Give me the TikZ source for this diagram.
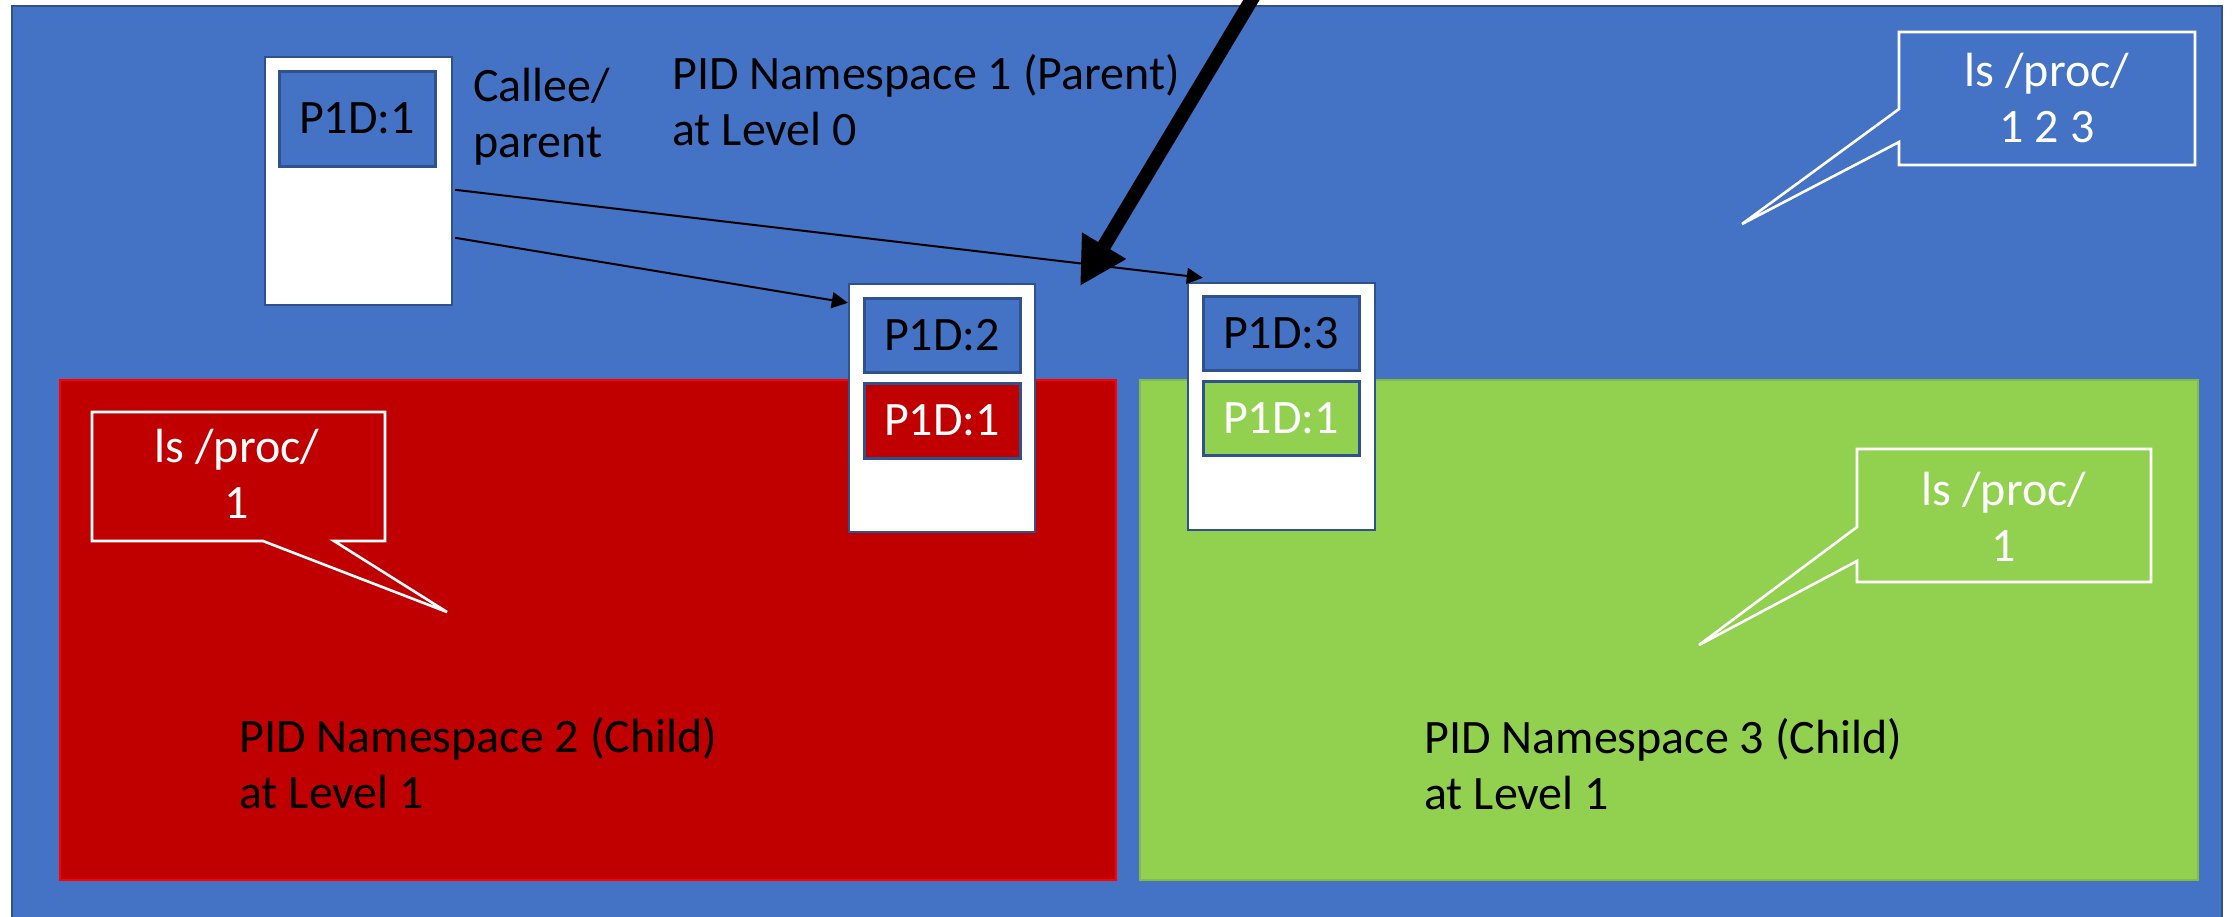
\documentclass[tikz,border=0pt]{standalone}
\usepackage{fontspec}
\setmainfont{Carlito}
\usetikzlibrary{fit,arrows.meta}
\definecolor{nsblue}{HTML}{4472C4}
\definecolor{nsblueline}{HTML}{2F528F}
\definecolor{nsred}{HTML}{C00000}
\definecolor{nsredline}{HTML}{FF0000}
\definecolor{nsgreen}{HTML}{92D050}
\begin{document}
\begin{tikzpicture}[x=0.5pt,y=-0.5pt,
  area/.style={inner sep=0pt, line width=1pt},
  procbox/.style={inner sep=0pt, fill=white, draw=nsblueline, line width=1.2pt},
  pidbox/.style={inner sep=0pt, draw=nsblueline, line width=1.5pt},
  txt/.style={font=\fontsize{24}{28}\selectfont, inner sep=0pt, align=left},
  ctxt/.style={font=\fontsize{24}{28}\selectfont, inner sep=0pt, align=center, text=white},
  callout/.style={draw=white, line width=1.3pt, line join=miter},
  thin/.style={draw=black, line width=1pt, -{Triangle[length=8pt,width=8pt]}},
  thick/.style={draw=black, line width=7pt, -{Triangle[length=23.5pt,width=24pt]}}
]
\useasboundingbox (0,0) rectangle (2236,916);
% namespaces
\node[area, fit={(12,6) (2222,940)}, fill=nsblue, draw=nsblueline] (ns1) {};
\node[area, fit={(60,380) (1116,880)}, fill=nsred, draw=nsredline] (ns2) {};
\node[area, fit={(1140,380) (2198,880)}, fill=nsgreen, draw=nsgreen!90!black] (ns3) {};
% callouts
\draw[callout, fill=nsblue] (1899,32) -- (2195,32) -- (2195,165) -- (1899,165) -- (1899,142) -- (1742,224) -- (1899,109) -- cycle;
\draw[callout, fill=nsred] (92,412) -- (385,412) -- (385,541) -- (334,541) -- (447,612) -- (263,541) -- (92,541) -- cycle;
\draw[callout, fill=nsgreen] (1857,449) -- (2151,449) -- (2151,582) -- (1857,582) -- (1857,561) -- (1699,645) -- (1857,527) -- cycle;
\node[ctxt, anchor=base] (c1) at (2047,142) {ls /proc/\\1 2 3};
\node[ctxt, anchor=base] (c2) at (237,518) {ls /proc/\\1};
\node[ctxt, anchor=base] (c3) at (2004,561) {ls /proc/\\1};
% process boxes
\node[procbox, fit={(265,57) (452,305)}] (p1) {};
\node[pidbox, fill=nsblue, fit={(279,71) (435,166)}] (p1a) {};
\node[txt] at (p1a.center) {P1D:1};
\node[procbox, fit={(849,284) (1035,532)}] (p2) {};
\node[pidbox, fill=nsblue, fit={(864,298) (1020,372)}] (p2a) {};
\node[txt] at (p2a.center) {P1D:2};
\node[pidbox, fill=nsred, fit={(864,383) (1020,458)}] (p2b) {};
\node[txt, text=white] at (p2b.center) {P1D:1};
\node[procbox, fit={(1188,283) (1375,530)}] (p3) {};
\node[pidbox, fill=nsblue, fit={(1203,296) (1359,370)}] (p3a) {};
\node[txt] at (p3a.center) {P1D:3};
\node[pidbox, fill=nsgreen, fit={(1203,381) (1359,455)}] (p3b) {};
\node[txt, text=white] at (p3b.center) {P1D:1};
% labels
\node[txt, anchor=base west] (ns1lbl) at (672,145) {PID Namespace 1 (Parent)\\at Level 0};
\node[txt, anchor=base west] (callee) at (473,157) {Callee/\\parent};
\node[txt, anchor=base west] (ns2lbl) at (239,808) {PID Namespace 2 (Child)\\at Level 1};
\node[txt, anchor=base west] (ns3lbl) at (1424,809) {PID Namespace 3 (Child)\\at Level 1};
% connectors
\draw[thin] ([shift={(2,134)}]p1.north east) -- ([shift={(16,-4)}]p3.north west);
\draw[thin] ([shift={(2,182)}]p1.north east) -- ([shift={(0,20)}]p2.north west);
\coordinate (bigtail) at (1261,-16);
\coordinate (bigtip) at (1080,286);
\draw[thick] (bigtail) -- (bigtip);
\end{tikzpicture}
\end{document}
